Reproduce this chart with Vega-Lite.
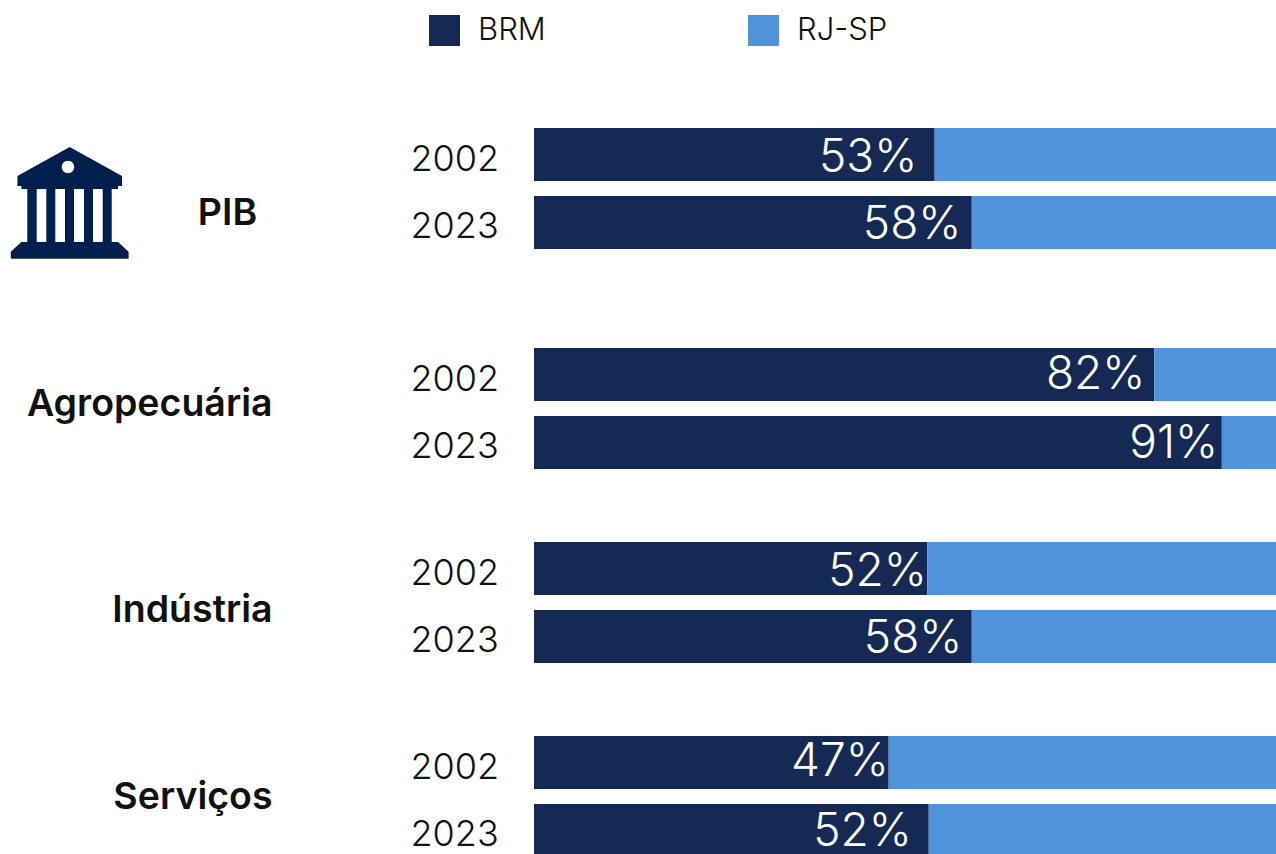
{"$schema":"https://vega.github.io/schema/vega-lite/v6.json","padding":{"left":10,"top":15,"right":0,"bottom":0},"background":"white","config":{"view":{"stroke":null},"font":"Inter","concat":{"spacing":73}},"datasets":{"d":[
{"group":"PIB","year":"2002","series":"BRM","value":54,"label":53,"text":"53%"},{"group":"PIB","year":"2002","series":"RJ-SP","value":46},
{"group":"PIB","year":"2023","series":"BRM","value":59,"label":58,"text":"58%"},{"group":"PIB","year":"2023","series":"RJ-SP","value":41},
{"group":"Agropecuária","year":"2002","series":"BRM","value":83.6,"label":82,"text":"82%"},{"group":"Agropecuária","year":"2002","series":"RJ-SP","value":16.4},
{"group":"Agropecuária","year":"2023","series":"BRM","value":92.7,"label":91,"text":"91%"},{"group":"Agropecuária","year":"2023","series":"RJ-SP","value":7.3},
{"group":"Indústria","year":"2002","series":"BRM","value":53,"label":52,"text":"52%"},{"group":"Indústria","year":"2002","series":"RJ-SP","value":47},
{"group":"Indústria","year":"2023","series":"BRM","value":59,"label":58,"text":"58%"},{"group":"Indústria","year":"2023","series":"RJ-SP","value":41},
{"group":"Serviços","year":"2002","series":"BRM","value":47.8,"label":47,"text":"47%"},{"group":"Serviços","year":"2002","series":"RJ-SP","value":52.2},
{"group":"Serviços","year":"2023","series":"BRM","value":53.2,"label":52,"text":"52%"},{"group":"Serviços","year":"2023","series":"RJ-SP","value":46.8}
]},
"resolve":{"scale":{"color":"independent"},"legend":{"color":"independent"}},
"bounds":"flush","spacing":99,
"vconcat":[
{"width":742,"height":121,"data":{"name":"d"},"transform":[{"filter":"datum.group=='PIB'"}],
"encoding":{"y":{"field":"year","type":"nominal","scale":{"paddingInner":0.22,"paddingOuter":0},"axis":{"title":"PIB","titleX":-307,"titleY":85,"titleAngle":0,"titleAlign":"center","titleBaseline":"middle","titleFont":"Inter","titleFontSize":37.5,"titleFontWeight":600,"titleColor":"#111","labelAlign":"left","labelPadding":124,"labelOffset":5,"labelFont":"Inter","labelFontSize":36,"labelFontWeight":300,"labelColor":"#111","ticks":false,"domain":false}}},
"layer":[
{"mark":{"type":"bar"},"encoding":{"x":{"field":"value","type":"quantitative","stack":"zero","scale":{"domain":[0,100],"nice":false},"axis":null},"order":{"field":"series"},"color":{"field":"series","type":"nominal","scale":{"domain":["BRM","RJ-SP"],"range":["#142a54","#4f94db"]},"legend":{"title":null,"orient":"none","legendX":-105,"legendY":-113,"direction":"horizontal","columns":2,"symbolType":"square","symbolSize":961,"symbolStrokeWidth":0,"symbolOpacity":1,"labelFont":"Inter","labelFontSize":31,"labelFontWeight":300,"labelColor":"#111","labelOffset":18,"columnPadding":202,"symbolLimit":2}}}},
{"transform":[{"filter":"datum.series=='BRM'&&datum.year=='2002'"}],"mark":{"type":"text","align":"right","baseline":"middle","color":"white","font":"Inter","fontSize":46,"fontWeight":300,"dx":-10,"dy":3},"encoding":{"x":{"field":"label","type":"quantitative"},"text":{"field":"text"}}},
{"transform":[{"filter":"datum.series=='BRM'&&datum.year=='2023'"}],"mark":{"type":"text","align":"right","baseline":"middle","color":"white","font":"Inter","fontSize":46,"fontWeight":300,"dx":-3,"dy":3},"encoding":{"x":{"field":"label","type":"quantitative"},"text":{"field":"text"}}},
{"data":{"values":[{"icon":"PIB"}]},"mark":{"type":"point","filled":true,"opacity":1,"color":"#001f4d","strokeWidth":0,"size":14161,"xOffset":-464.3,"yOffset":14.5,"shape":"M0 -0.941L0.879 -0.454L0.879 -0.286L0.812 -0.286L0.812 -0.235L-0.812 -0.235L-0.812 -0.286L-0.879 -0.286L-0.879 -0.454ZM-0.134 -0.605a0.105 0.105 0 1 0 0.21 0a0.105 0.105 0 1 0 -0.21 0ZM-0.713 -0.235H-0.555V0.655H-0.713ZM-0.393 -0.235H-0.242V0.655H-0.393ZM-0.079 -0.235H0.072V0.655H-0.079ZM0.24 -0.235H0.392V0.655H0.24ZM0.555 -0.235H0.706V0.655H0.555ZM-0.812 0.655H0.812L0.99 0.82V0.936H-0.99V0.82Z"},"encoding":{"x":{"datum":0,"type":"quantitative"},"y":{"value":60.5}}}
]},
{"bounds":"flush","spacing":73,"resolve":{"scale":{"color":"independent"},"legend":{"color":"independent"}},"vconcat":[
{"width":742,"height":121,"data":{"name":"d"},"transform":[{"filter":"datum.group=='Agropecuária'"}],
"encoding":{"y":{"field":"year","type":"nominal","scale":{"paddingInner":0.22,"paddingOuter":0},"axis":{"title":"Agropecuária","titleX":-262,"titleY":56,"titleAngle":0,"titleAlign":"right","titleBaseline":"middle","titleFont":"Inter","titleFontSize":37.5,"titleFontWeight":600,"titleColor":"#111","labelAlign":"left","labelPadding":124,"labelOffset":5,"labelFont":"Inter","labelFontSize":36,"labelFontWeight":300,"labelColor":"#111","ticks":false,"domain":false}}},
"layer":[
{"mark":{"type":"bar"},"encoding":{"x":{"field":"value","type":"quantitative","stack":"zero","scale":{"domain":[0,100],"nice":false},"axis":null},"order":{"field":"series"},"color":{"field":"series","type":"nominal","scale":{"domain":["BRM","RJ-SP"],"range":["#142a54","#4f94db"]},"legend":null}}},
{"transform":[{"filter":"datum.series=='BRM'&&datum.year=='2002'"}],"mark":{"type":"text","align":"right","baseline":"middle","color":"white","font":"Inter","fontSize":46,"fontWeight":300,"dx":3,"dy":0},"encoding":{"x":{"field":"label","type":"quantitative"},"text":{"field":"text"}}},
{"transform":[{"filter":"datum.series=='BRM'&&datum.year=='2023'"}],"mark":{"type":"text","align":"right","baseline":"middle","color":"white","font":"Inter","fontSize":46,"fontWeight":300,"dx":9,"dy":2},"encoding":{"x":{"field":"label","type":"quantitative"},"text":{"field":"text"}}}
]},
{"width":742,"height":121,"data":{"name":"d"},"transform":[{"filter":"datum.group=='Indústria'"}],
"encoding":{"y":{"field":"year","type":"nominal","scale":{"paddingInner":0.22,"paddingOuter":0},"axis":{"title":"Indústria","titleX":-262,"titleY":68,"titleAngle":0,"titleAlign":"right","titleBaseline":"middle","titleFont":"Inter","titleFontSize":37.5,"titleFontWeight":600,"titleColor":"#111","labelAlign":"left","labelPadding":124,"labelOffset":5,"labelFont":"Inter","labelFontSize":36,"labelFontWeight":300,"labelColor":"#111","ticks":false,"domain":false}}},
"layer":[
{"mark":{"type":"bar"},"encoding":{"x":{"field":"value","type":"quantitative","stack":"zero","scale":{"domain":[0,100],"nice":false},"axis":null},"order":{"field":"series"},"color":{"field":"series","type":"nominal","scale":{"domain":["BRM","RJ-SP"],"range":["#142a54","#4f94db"]},"legend":null}}},
{"transform":[{"filter":"datum.series=='BRM'&&datum.year=='2002'"}],"mark":{"type":"text","align":"right","baseline":"middle","color":"white","font":"Inter","fontSize":46,"fontWeight":300,"dx":7,"dy":3},"encoding":{"x":{"field":"label","type":"quantitative"},"text":{"field":"text"}}},
{"transform":[{"filter":"datum.series=='BRM'&&datum.year=='2023'"}],"mark":{"type":"text","align":"right","baseline":"middle","color":"white","font":"Inter","fontSize":46,"fontWeight":300,"dx":-2,"dy":3},"encoding":{"x":{"field":"label","type":"quantitative"},"text":{"field":"text"}}}
]},
{"width":742,"height":118,"data":{"name":"d"},"transform":[{"filter":"datum.group=='Serviços'"}],
"encoding":{"y":{"field":"year","type":"nominal","scale":{"paddingInner":0.22,"paddingOuter":0,"range":[0,121]},"axis":{"title":"Serviços","titleX":-262,"titleY":61,"titleAngle":0,"titleAlign":"right","titleBaseline":"middle","titleFont":"Inter","titleFontSize":37.5,"titleFontWeight":600,"titleColor":"#111","labelAlign":"left","labelPadding":124,"labelOffset":5,"labelFont":"Inter","labelFontSize":36,"labelFontWeight":300,"labelColor":"#111","ticks":false,"domain":false}}},
"layer":[
{"mark":{"type":"bar","clip":true},"encoding":{"x":{"field":"value","type":"quantitative","stack":"zero","scale":{"domain":[0,100],"nice":false},"axis":null},"order":{"field":"series"},"color":{"field":"series","type":"nominal","scale":{"domain":["BRM","RJ-SP"],"range":["#142a54","#4f94db"]},"legend":null}}},
{"transform":[{"filter":"datum.series=='BRM'&&datum.year=='2002'"}],"mark":{"type":"text","align":"right","baseline":"middle","color":"white","font":"Inter","fontSize":46,"fontWeight":300,"dx":6,"dy":-1},"encoding":{"x":{"field":"label","type":"quantitative"},"text":{"field":"text"}}},
{"transform":[{"filter":"datum.series=='BRM'&&datum.year=='2023'"}],"mark":{"type":"text","align":"right","baseline":"middle","color":"white","font":"Inter","fontSize":46,"fontWeight":300,"dx":-8,"dy":2},"encoding":{"x":{"field":"label","type":"quantitative"},"text":{"field":"text"}}}
]}
]}
]}
